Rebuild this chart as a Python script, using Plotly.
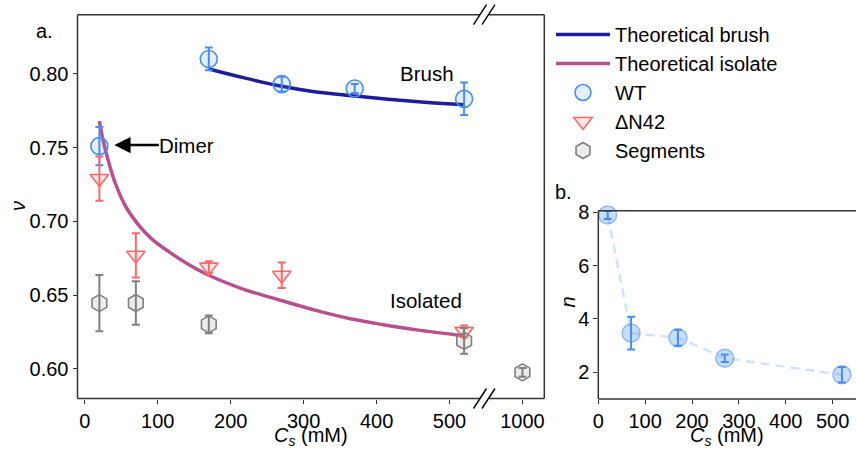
import plotly.graph_objects as go

W, H = 856, 450
FONT = "Liberation Sans, Arial, Helvetica, sans-serif"

# ---------------- data ----------------
# Panel a
wt_x = [20, 170, 270, 370, 520]
wt_nu = [0.751, 0.810, 0.793, 0.790, 0.783]
wt_err = [0.013, 0.0077, 0.005, 0.003, 0.011]

dn42_x = [20, 70, 170, 270, 520]
dn42_nu = [0.729, 0.677, 0.669, 0.6635, 0.6255]
dn42_err = [0.015, 0.015, 0.004, 0.0087, 0.004]

seg_x = [20, 70, 170, 520]
seg_nu = [0.6446, 0.6447, 0.6302, 0.619]
seg_err = [0.019, 0.0147, 0.006, 0.0087]
seg_far_x = [1000]
seg_far_nu = [0.5977]
seg_far_err = [0.003]

brush_x = [170, 220, 270, 310, 370, 420, 470, 520]
brush_nu = [0.8032, 0.797, 0.7915, 0.7882, 0.785, 0.7825, 0.7805, 0.779]

iso_x = [20, 25, 32, 41, 55, 73, 92, 115, 140, 170, 215, 265, 318, 364, 409, 455, 520]
iso_nu = [0.768, 0.755, 0.7415, 0.727, 0.711, 0.698, 0.688, 0.6795, 0.6715,
          0.6635, 0.6545, 0.647, 0.6395, 0.634, 0.630, 0.6265, 0.6225]

# Panel b
n_x = [20, 70, 170, 270, 520]
n_val = [7.9, 3.47, 3.30, 2.53, 1.91]
n_err = [0.15, 0.61, 0.30, 0.14, 0.29]

xticks_a = [0, 100, 200, 300, 400, 500]
xticks_a2 = [1000]
yticks_a = [0.60, 0.65, 0.70, 0.75, 0.80]
xticks_b = [0, 100, 200, 300, 400, 500]
yticks_b = [2, 4, 6, 8]

# colours
BLUE = "#4a8ef0"
RED = "#ff6868"
GREY = "#808080"
NAVY = "#1c1c9c"
PINK = "#b8508f"
SPINE = "#333333"


def px(x):
    return x / W


def py(y):
    return 1 - y / H


fig = go.Figure()

fig.add_trace(go.Scatter(x=brush_x, y=brush_nu, mode="lines", name="Theoretical brush",
                         line=dict(color=NAVY, width=3.5, shape="spline"),
                         xaxis="x", yaxis="y", legendrank=1))
fig.add_trace(go.Scatter(x=iso_x, y=iso_nu, mode="lines", name="Theoretical isolate",
                         line=dict(color=PINK, width=3.5, shape="spline"),
                         xaxis="x", yaxis="y", legendrank=2))


def pts(x, y, e, name, sym, size, col, fill, axis, show, rank):
    return go.Scatter(x=x, y=y, mode="markers", name=name, showlegend=show,
                      legendgroup=name, legendrank=rank,
                      marker=dict(symbol=sym, size=size, color=fill,
                                  line=dict(color=col, width=1.6)),
                      error_y=dict(type="data", array=e, visible=True, color=col,
                                   thickness=2, width=4),
                      xaxis=axis, yaxis="y", cliponaxis=False)


fig.add_trace(pts(wt_x, wt_nu, wt_err, "WT", "circle", 17, BLUE,
                  "rgba(74,142,240,0.15)", "x", True, 3))
fig.add_trace(pts(dn42_x, dn42_nu, dn42_err, "ΔN42", "triangle-down", 16, RED,
                  "rgba(255,104,104,0.15)", "x", True, 4))
fig.add_trace(pts(seg_x, seg_nu, seg_err, "Segments", "hexagon", 17, GREY,
                  "rgba(128,128,128,0.15)", "x", True, 5))
fig.add_trace(pts(seg_far_x, seg_far_nu, seg_far_err, "Segments", "hexagon", 17, GREY,
                  "rgba(128,128,128,0.15)", "x2", False, 6))

# panel b
fig.add_trace(go.Scatter(x=n_x, y=n_val, mode="lines", showlegend=False,
                         line=dict(color="rgba(74,142,240,0.25)", width=2.5, dash="9px,6px"),
                         xaxis="x3", yaxis="y3"))
fig.add_trace(go.Scatter(x=n_x, y=n_val, mode="markers", showlegend=False,
                         marker=dict(symbol="circle", size=18, color="rgba(74,142,240,0.3)",
                                     line=dict(color="rgba(74,142,240,0.55)", width=1.5)),
                         error_y=dict(type="data", array=n_err, visible=True, color=BLUE,
                                      thickness=2, width=4),
                         xaxis="x3", yaxis="y3", cliponaxis=False))

# geometry (pixels)
A_L, A_B, A_R, A_T = 77.5, 398.5, 544.3, 14.7
A_BRK = 486.0
B_L, B_T, B_B = 598.3, 210.7, 399.0

tickfont = dict(family=FONT, size=20, color="black")
common = dict(showgrid=False, zeroline=False, showline=False, ticks="outside",
              ticklen=4, tickwidth=1.2, tickcolor=SPINE, tickfont=tickfont,
              automargin=False)

fig.update_layout(
    width=W, height=H, autosize=False,
    margin=dict(l=0, r=0, t=0, b=0, pad=0),
    paper_bgcolor="white", plot_bgcolor="rgba(0,0,0,0)",
    font=dict(family=FONT, size=20, color="black"),
    xaxis=dict(domain=[px(A_L), px(A_BRK)], range=[-10, 550], anchor="y",
               tickvals=xticks_a, **common),
    xaxis2=dict(domain=[px(A_BRK), px(A_R)], range=[950, 1030], anchor="y",
                tickvals=xticks_a2, **common),
    yaxis=dict(domain=[py(A_B), py(A_T)], range=[0.58, 0.84], anchor="x",
               tickvals=yticks_a, tickformat=".2f", **common),
    xaxis3=dict(domain=[px(B_L), 1.0], range=[0, 550], anchor="y3",
                tickvals=xticks_b, **common),
    yaxis3=dict(domain=[py(B_B), py(B_T)], range=[1, 8.06], anchor="x3",
                tickvals=yticks_b, **common),
    legend=dict(x=px(551), y=py(15), xanchor="left", yanchor="top",
                font=dict(family=FONT, size=20), bgcolor="rgba(0,0,0,0)",
                tracegroupgap=0, itemwidth=54),
)

shapes = []


def seg(x0, y0, x1, y1, w=1.5, c=SPINE):
    shapes.append(dict(type="line", xref="paper", yref="paper",
                       x0=px(x0), y0=py(y0), x1=px(x1), y1=py(y1),
                       line=dict(color=c, width=w)))


# frame of panel a with break gaps
gap0, gap1 = 480.0, 488.5
seg(A_L, A_T, gap0, A_T)
seg(gap1, A_T, A_R, A_T)
seg(A_L, A_B, gap0, A_B)
seg(gap1, A_B, A_R, A_B)
seg(A_L, A_T, A_L, A_B)
seg(A_R, A_T, A_R, A_B)
# break marks
for yc in (A_T, A_B):
    for xc in (gap0, gap1):
        seg(xc - 6.5, yc + 10, xc + 6.5, yc - 10, w=1.4, c="black")
# frame of panel b
seg(B_L, B_T, B_L, B_B)
seg(B_L, B_B, W + 2, B_B)
seg(B_L, B_T, W + 2, B_T)

fig.update_layout(shapes=shapes)

ann = []


def txt(x, y, t, size=20, **kw):
    d = dict(xref="paper", yref="paper", x=px(x), y=py(y), text=t, showarrow=False,
             font=dict(family=FONT, size=size, color="black"),
             xanchor="center", yanchor="middle")
    d.update(kw)
    ann.append(d)


txt(44.5, 31, "a.")
txt(563.5, 192, "b.")
txt(311, 436, "<i>C<sub>s</sub></i> (mM)")
txt(727, 436, "<i>C<sub>s</sub></i> (mM)")
txt(18, 206, "<i>ν</i>", textangle=-90)
txt(567.5, 302, "<i>n</i>", textangle=-90)

ann.append(dict(xref="x", yref="y", x=469, y=0.8003, text="Brush", showarrow=False,
                font=dict(family=FONT, size=20.5, color="black")))
ann.append(dict(xref="x", yref="y", x=468, y=0.6465, text="Isolated", showarrow=False,
                font=dict(family=FONT, size=20.5, color="black")))
ann.append(dict(xref="x", yref="y", x=40.5, y=0.7517, axref="x", ayref="y",
                ax=140, ay=0.7517, text="Dimer", showarrow=True,
                arrowhead=2, arrowsize=1.3, arrowwidth=2.5, arrowcolor="black",
                borderpad=0, standoff=0,
                font=dict(family=FONT, size=20.5, color="black")))

fig.update_layout(annotations=ann)

fig.write_html("out.html", config={"displayModeBar": False},
               post_script="document.body.style.margin='0';document.body.style.padding='0';")
